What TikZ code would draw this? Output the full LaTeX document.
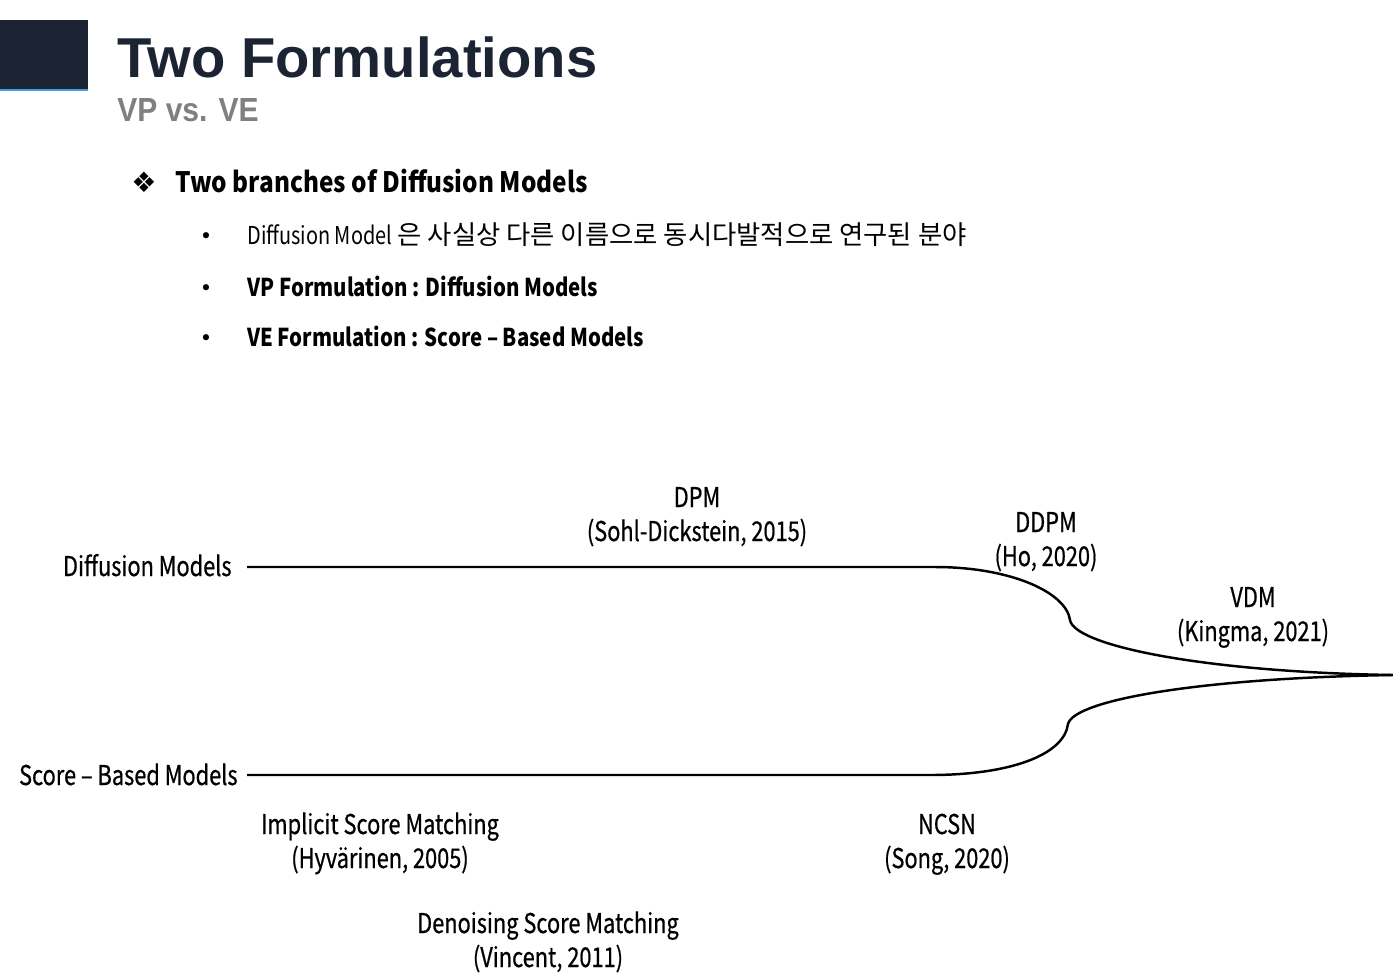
\documentclass[tikz,border=0pt]{standalone}
\usepackage{fontspec}
\setmainfont{Noto Sans CJK KR}
\newfontfamily\narrow[FakeStretch=0.81]{Noto Sans CJK KR}
\newfontfamily\lblfont[FakeStretch=0.80,FakeBold=0.6]{Noto Sans CJK KR}
\newfontfamily\narrowb[FakeStretch=0.83]{Noto Sans CJK KR}
\newfontfamily\headfont[FakeStretch=0.866]{Noto Sans CJK KR}
\newfontfamily\titlefont{Liberation Sans}
\newfontfamily\subfont[FakeStretch=0.9]{Liberation Sans}
\newfontfamily\symfont{DejaVu Sans}
\definecolor{navy}{HTML}{1C2333}
\definecolor{subgray}{HTML}{808080}
\definecolor{accent}{HTML}{3FA0E0}
\tikzset{
  lbl/.style={inner sep=0pt, font=\lblfont\fontsize{15.5}{18}\selectfont, text=black},
  branch/.style={line width=1.4pt, black},
  body/.style={inner sep=0pt, anchor=base west, font=\fontsize{14}{17}\selectfont},
  bodyb/.style={body, font=\narrowb\fontsize{14}{17}\selectfont\bfseries},
  dot/.style={inner sep=0pt, anchor=base, font=\symfont\fontsize{12}{14}\selectfont}
}
\begin{document}
\begin{tikzpicture}[x=0.02cm,y=-0.02cm]
\useasboundingbox[fill=white] (0,0) rectangle (1393,975);
% header
\fill[navy] (0,20) rectangle (88,90);
\fill[accent] (0,89) rectangle (88,91);
\node[inner sep=0pt, anchor=base west, text=navy, font=\titlefont\bfseries\fontsize{32}{37}\selectfont] (title) at (117,77) {Two Formulations};
\node[inner sep=0pt, anchor=base west, text=subgray, font=\subfont\bfseries\fontsize{19}{22}\selectfont] (subtitle) at (117,121) {VP vs. VE};
% bullets
\node[inner sep=0pt, anchor=center, font=\symfont\fontsize{16}{18}\selectfont] (diam) at (144,182) {❖};
\node[body, font=\headfont\fontsize{16}{19}\selectfont\bfseries] (head) at (175,192) {Two branches of Diffusion Models};
\node[dot] (b1) at (206,243) {•};
\node[body] (t1) at (247,244) {{\narrow Diffusion Model} {\fontsize{15}{17}\selectfont 은 사실상 다른 이름으로 동시다발적으로 연구된 분야}};
\node[dot] (b2) at (206,295) {•};
\node[bodyb] (t2) at (247,296) {VP Formulation : Diffusion Models};
\node[dot] (b3) at (206,345) {•};
\node[bodyb] (t3) at (247,346) {VE Formulation : Score – Based Models};
% diagram labels
\node[lbl, anchor=base east] (dm) at (232,576) {Diffusion Models};
\node[lbl, anchor=base east] (sbm) at (238,785) {Score – Based Models};
\node[lbl, anchor=base] (dpm) at (697,507) {DPM};
\node[lbl, anchor=base] (dpmr) at (697,541) {(Sohl-Dickstein, 2015)};
\node[lbl, anchor=base] (ddpm) at (1046,532) {DDPM};
\node[lbl, anchor=base] (ddpmr) at (1046,566) {(Ho, 2020)};
\node[lbl, anchor=base] (vdm) at (1253,607) {VDM};
\node[lbl, anchor=base] (vdmr) at (1253,641) {(Kingma, 2021)};
\node[lbl, anchor=base] (ism) at (380,834) {Implicit Score Matching};
\node[lbl, anchor=base] (ismr) at (380,868) {(Hyvärinen, 2005)};
\node[lbl, anchor=base] (ncsn) at (947,834) {NCSN};
\node[lbl, anchor=base] (ncsnr) at (947,868) {(Song, 2020)};
\node[lbl, anchor=base] (dsm) at (548,933) {Denoising Score Matching};
\node[lbl, anchor=base] (dsmr) at (548,967) {(Vincent, 2011)};
% branches
\coordinate (topstart) at (247,567);
\coordinate (topbend) at (935,567);
\coordinate (topkink) at (1070,620);
\coordinate (botstart) at (247,775);
\coordinate (botbend) at (930,775);
\coordinate (botkink) at (1068,724);
\coordinate (merge) at (1393,675);
\draw[branch] (topstart) -- (topbend)
  .. controls (1010,567) and (1066,592) .. (topkink)
  .. controls (1074,645) and (1200,672) .. (merge);
\draw[branch] (botstart) -- (botbend)
  .. controls (1010,775) and (1064,755) .. (botkink)
  .. controls (1074,700) and (1200,678) .. (merge);
\end{tikzpicture}
\end{document}
